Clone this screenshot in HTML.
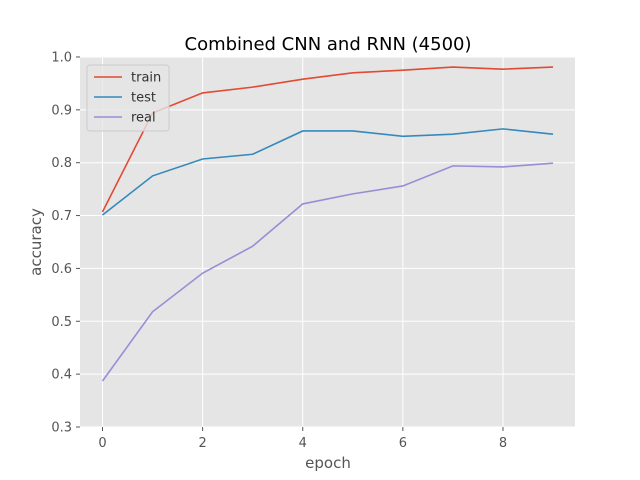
<!DOCTYPE html>
<html><head><meta charset="utf-8"><style>body{margin:0;background:#fff}svg{display:block;font-family:"DejaVu Sans","Liberation Sans",sans-serif}</style></head>
<body>
<svg id="chart" width="640" height="480" xmlns="http://www.w3.org/2000/svg">
<rect x="0" y="0" width="640" height="480" fill="#fff"/>
<rect x="80" y="57" width="495" height="370" fill="#E5E5E5"/>
<g id="grid"></g><g id="ticks"></g><g id="series"></g>
<text x="328" y="50" text-anchor="middle" font-size="18" fill="#000">Combined CNN and RNN (4500)</text>
<text x="328" y="468" text-anchor="middle" font-size="15" fill="#555">epoch</text>
<text transform="translate(41,242) rotate(-90)" text-anchor="middle" font-size="15" fill="#555">accuracy</text>
<g id="legend">
<rect x="87" y="65" width="82" height="66" rx="3" fill="#E5E5E5" fill-opacity="0.8" stroke="#ccc" stroke-width="1"/>
</g>
</svg>
<script>
const epochs=[0,1,2,3,4,5,6,7,8,9];
const train=[0.707,0.894,0.932,0.943,0.958,0.970,0.975,0.981,0.977,0.981];
const test=[0.701,0.775,0.807,0.816,0.860,0.860,0.850,0.854,0.864,0.854];
const real=[0.387,0.518,0.591,0.642,0.722,0.741,0.756,0.794,0.792,0.799];
const xTicks=[0,2,4,6,8];
const yTicks=[0.3,0.4,0.5,0.6,0.7,0.8,0.9,1.0];
const seriesNames=["train","test","real"];
const colors=["#E24A33","#348ABD","#988ED5"];
const NS="http://www.w3.org/2000/svg";
const xs=v=>102.5+v*50.06;
const ys=v=>427-(v-0.3)*528.6;
function mk(tag,attrs,parent){const e=document.createElementNS(NS,tag);for(const k in attrs)e.setAttribute(k,attrs[k]);parent.appendChild(e);return e;}
const grid=document.getElementById('grid'),ticks=document.getElementById('ticks'),ser=document.getElementById('series'),leg=document.getElementById('legend');
xTicks.forEach(t=>{
 const l=mk('line',{x1:xs(t),x2:xs(t),y1:57,y2:427,stroke:'#fff','stroke-width':1},grid);
 
 
 mk('line',{x1:xs(t),x2:xs(t),y1:427,y2:431,stroke:'#555'},ticks);
 const tx=mk('text',{x:xs(t),y:447,'text-anchor':'middle','font-size':13,fill:'#555'},ticks);tx.textContent=t;
 
 
});
yTicks.forEach(t=>{
 const l=mk('line',{x1:80,x2:575,y1:ys(t),y2:ys(t),stroke:'#fff','stroke-width':1},grid);
 
 
 mk('line',{x1:76,x2:80,y1:ys(t),y2:ys(t),stroke:'#555'},ticks);
 const tx=mk('text',{x:72,y:ys(t)+4.5,'text-anchor':'end','font-size':13,fill:'#555'},ticks);tx.textContent=t.toFixed(1);
 
 
});
[train,test,real].forEach((d,i)=>{
 const p=mk('polyline',{points:d.map((v,j)=>xs(epochs[j])+','+ys(v)).join(' '),fill:'none',stroke:colors[i],'stroke-width':1.6},ser);
 
 
});
ser.parentNode.appendChild(leg);
seriesNames.forEach((n,i)=>{
 const y=77+i*20;
 const l=mk('line',{x1:94,x2:122,y1:y,y2:y,stroke:colors[i],'stroke-width':1.6},leg);
 
 
 const t=mk('text',{x:131,y:y+4.5,'font-size':13,fill:'#333'},leg);t.textContent=n;
 
 
});
</script>
</body></html>
